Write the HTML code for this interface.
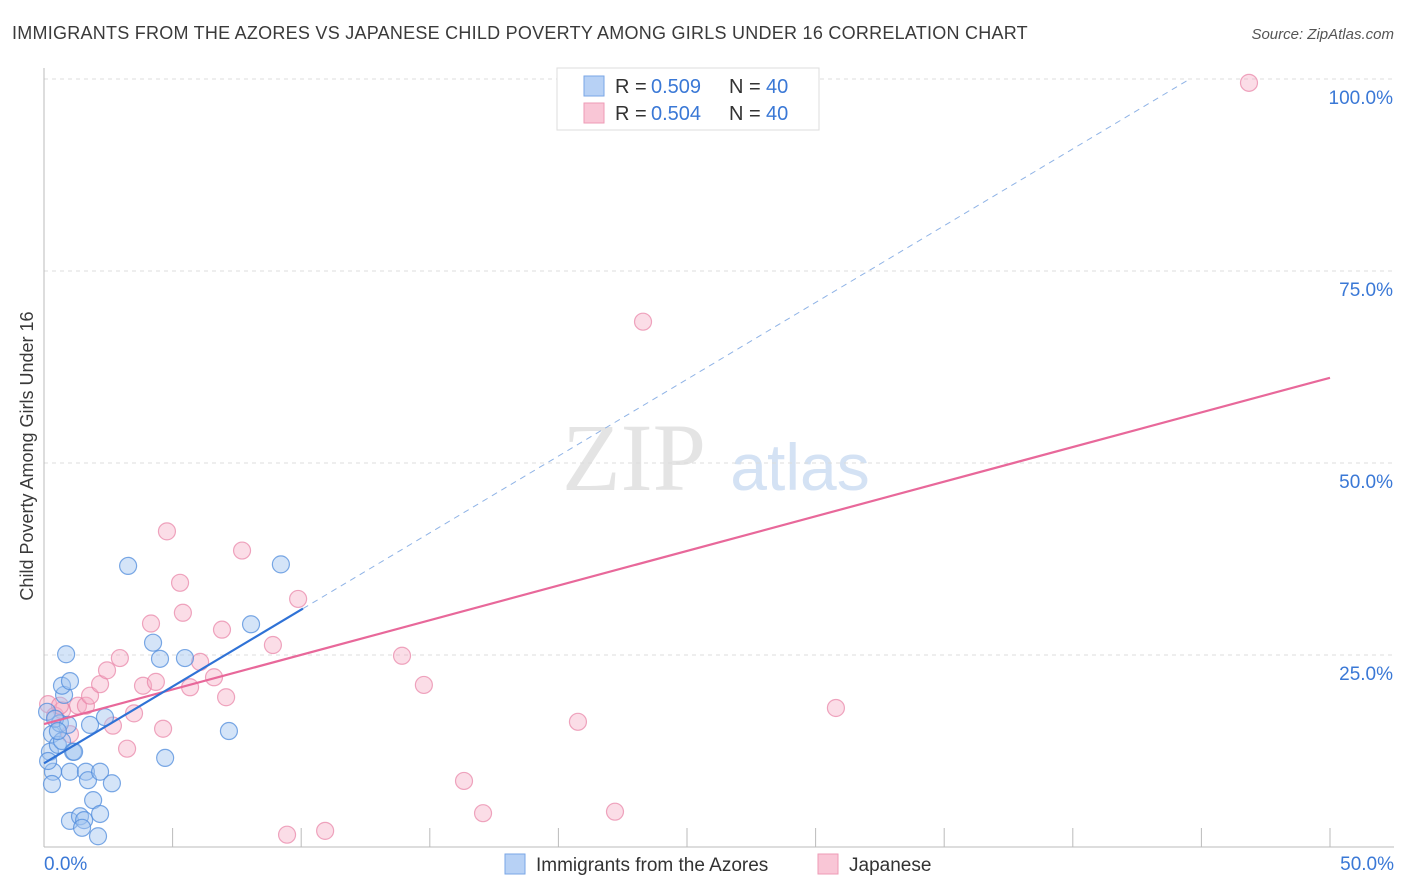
<!DOCTYPE html>
<html><head><meta charset="utf-8"><style>
body{margin:0;background:#fff;font-family:"Liberation Sans",sans-serif;}
#wrap{position:relative;width:1406px;height:892px;overflow:hidden;}
</style></head><body>
<div id="wrap">
<svg id="svg" width="1406" height="892">
<text x="12" y="39" font-size="18" fill="#3a3a3a" letter-spacing="0.25">IMMIGRANTS FROM THE AZORES VS JAPANESE CHILD POVERTY AMONG GIRLS UNDER 16 CORRELATION CHART</text>
<text x="1394" y="39" font-size="15" fill="#555" text-anchor="end" font-style="italic">Source: ZipAtlas.com</text>
<text x="33" y="456" font-size="18" fill="#3a3a3a" text-anchor="middle" transform="rotate(-90 33 456)">Child Poverty Among Girls Under 16</text>
<text x="634" y="490" font-size="96" fill="#e4e4e4" font-family="Liberation Serif,serif" text-anchor="middle">ZIP</text>
<text x="800" y="490" font-size="66" fill="#d4e2f4" text-anchor="middle">atlas</text>
<g id="grid"></g><g id="pts"></g><g id="lines"></g>
<g>
<rect x="557" y="68" width="262" height="62" fill="#fff" stroke="#ddd"/>
<rect x="584" y="76" width="20" height="20" fill="#b7d1f5" stroke="#7aa6e6"/>
<rect x="584" y="103" width="20" height="20" fill="#f9c6d6" stroke="#ee9bb6"/>
<text y="93" font-size="20" fill="#333"><tspan x="615">R =</tspan><tspan x="651" fill="#3a78d6">0.509</tspan><tspan x="729">N =</tspan><tspan x="766" fill="#3a78d6">40</tspan></text>
<text y="120" font-size="20" fill="#333"><tspan x="615">R =</tspan><tspan x="651" fill="#3a78d6">0.504</tspan><tspan x="729">N =</tspan><tspan x="766" fill="#3a78d6">40</tspan></text>
</g>
<g>
<rect x="505" y="854" width="20" height="20" fill="#b7d1f5" stroke="#7aa6e6"/>
<text x="536" y="871" font-size="19" fill="#333">Immigrants from the Azores</text>
<rect x="818" y="854" width="20" height="20" fill="#f9c6d6" stroke="#ee9bb6"/>
<text x="849" y="871" font-size="19" fill="#333">Japanese</text>
</g>
</svg></div>
<script>
const yTicks=[25,50,75,100];
const yTickLabels=["25.0%","50.0%","75.0%","100.0%"];
const xTickLabels=["0.0%","50.0%"];
const azoresX=[0.12,0.31,0.23,0.35,0.31,0.54,0.7,0.62,0.43,0.93,0.78,0.7,1.01,0.86,1.13,1.01,1.63,1.71,2.18,2.64,1.91,1.01,1.4,1.56,1.48,2.18,2.1,2.37,1.79,3.27,4.24,4.51,5.48,4.71,7.19,8.05,9.21,0.54,0.16,1.17];
const azoresY=[17.6,14.7,12.4,9.8,8.2,13.3,13.8,16.1,16.7,15.9,19.8,21.0,21.6,25.1,12.4,9.8,9.8,8.7,9.8,8.3,6.1,3.4,4.0,3.5,2.5,4.3,1.4,16.9,15.9,36.6,26.6,24.5,24.6,11.6,15.1,29.0,36.8,15.1,11.2,12.4];
const japX=[0.16,0.43,0.7,1.01,1.32,1.63,1.79,2.18,2.45,2.95,2.68,3.23,3.5,3.85,4.16,4.35,4.63,4.78,5.29,5.4,5.68,6.07,6.61,6.92,7.08,7.7,8.9,9.88,13.92,14.77,16.33,17.07,20.76,22.2,23.29,30.79,46.85,9.45,10.93,0.62];
const japY=[18.6,17.1,17.8,14.7,18.4,18.4,19.7,21.2,23.0,24.6,15.8,12.8,17.4,21.0,29.1,21.5,15.4,41.1,34.4,30.5,20.8,24.1,22.1,28.3,19.5,38.6,26.3,32.3,24.9,21.1,8.6,4.4,16.3,4.6,68.4,18.1,99.5,1.6,2.1,18.4];
const ax={b0:10.9,b1:2.0,bEnd:10.07,p0:16.0,p1:0.902};
const X=v=>44+v/50*1286, Y=v=>847-v/100*768;
const NS="http://www.w3.org/2000/svg";
function mk(t,a,p){const e=document.createElementNS(NS,t);for(const k in a)e.setAttribute(k,a[k]);p.appendChild(e);return e;}
const grid=document.getElementById('grid');
yTicks.forEach((t,i)=>{
 const l=mk('line',{x1:44,x2:1394,y1:Y(t),y2:Y(t),stroke:'#ddd','stroke-dasharray':'4 4'},grid);
 
 
 const tx=mk('text',{x:1393,y:Y(t)+25,'font-size':19,fill:'#3a78d6','text-anchor':'end'},grid);
 tx.textContent=yTickLabels[i];
 
 
});
const xa=mk('line',{x1:44,x2:1394,y1:847,y2:847,stroke:'#bbb'},grid);


const ya=mk('line',{x1:44,x2:44,y1:68,y2:847,stroke:'#bbb'},grid);


for(let i=1;i<=10;i++){const tk=mk('line',{x1:X(i*5),x2:X(i*5),y1:828,y2:847,stroke:'#bbb'},grid);
 
 }
[[0,'start',44],[50,'end',1394]].forEach((d,i)=>{const t=mk('text',{x:d[2],y:870,'font-size':19,fill:'#3a78d6','text-anchor':d[1]},grid);t.textContent=xTickLabels[i];
 
 });
const pts=document.getElementById('pts');
japX.forEach((x,i)=>{const c=mk('circle',{cx:X(x),cy:Y(japY[i]),r:8.5,fill:'rgba(246,170,196,0.4)',stroke:'rgba(232,130,165,0.7)','stroke-width':1.2},pts);
 
 });
azoresX.forEach((x,i)=>{const c=mk('circle',{cx:X(x),cy:Y(azoresY[i]),r:8.5,fill:'rgba(160,195,240,0.45)',stroke:'rgba(80,140,220,0.75)','stroke-width':1.2},pts);
 
 });
const ln=document.getElementById('lines');
const xd=(100-ax.b0)/ax.b1;
const bd=mk('line',{x1:X(ax.bEnd),y1:Y(ax.b0+ax.b1*ax.bEnd),x2:X(xd),y2:Y(100),stroke:'#8fb3e6','stroke-width':1,'stroke-dasharray':'6 5'},ln);


const pl=mk('line',{x1:X(0),y1:Y(ax.p0),x2:X(50),y2:Y(ax.p0+ax.p1*50),stroke:'#e8689a','stroke-width':2.2},ln);


const bl=mk('line',{x1:X(0),y1:Y(ax.b0),x2:X(ax.bEnd),y2:Y(ax.b0+ax.b1*ax.bEnd),stroke:'#2f72d6','stroke-width':2.2},ln);


</script>
</body></html>
